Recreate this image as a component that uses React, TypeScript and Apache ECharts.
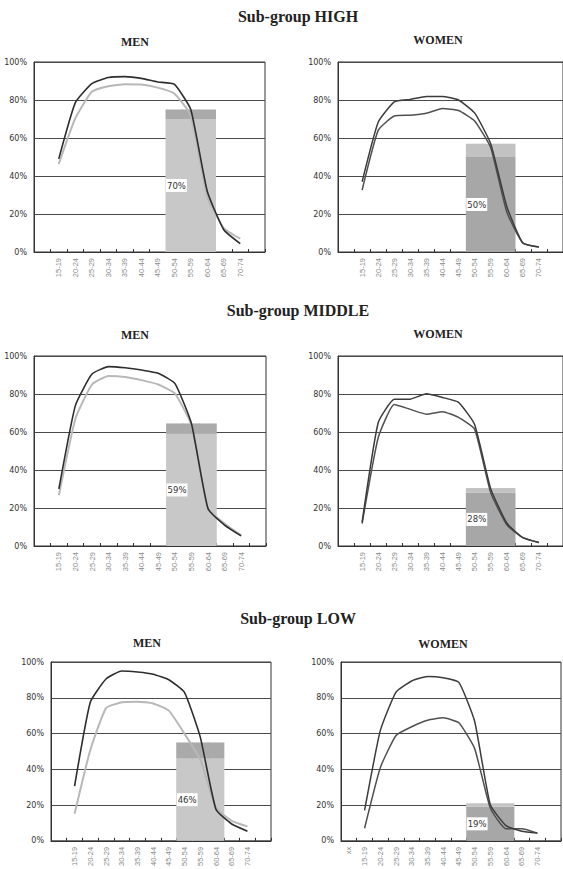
import React, { useEffect, useRef } from "react";
import * as echarts from "echarts";

// Categories (first and last slots are empty bands on the axis)
const AGE_GROUPS = ["15-19", "20-24", "25-29", "30-34", "35-39", "40-44", "45-49", "50-54", "55-59", "60-64", "65-69", "70-74"];
const CATS = ["", ...AGE_GROUPS, ""];
const CATS_LOW_WOMEN = ["xx", ...AGE_GROUPS, ""];
const BAR_CATS = ["50-54", "55-59", "60-64"];
const Y_TICKS = [0, 20, 40, 60, 80, 100];

// Sub-group HIGH
const highMenDark = [49, 78.5, 88.6, 91.8, 92.3, 91.4, 89.5, 88.3, 75, 32, 11.7, 4.4];
const highMenLight = [46.3, 70.3, 84.3, 87.2, 88.3, 88.1, 86.5, 83.4, 72, 29, 12.6, 7];
const highMenBar = [70, 75];
const highWomenA = [37, 68.3, 79, 80.3, 81.9, 81.9, 80, 73.2, 57, 24, 4.7, 2.6];
const highWomenB = [32.6, 64, 71.6, 72, 73, 75.5, 74.5, 69, 55, 21, 4.7, 2.6];
const highWomenBar = [50, 57];

// Sub-group MIDDLE
const midMenDark = [30, 74, 90.5, 94.4, 93.8, 92.6, 90.9, 85.6, 64.5, 19.7, 11, 5.3];
const midMenLight = [26.7, 67, 85, 89.5, 89, 87.3, 85, 80.3, 63.6, 19.7, 11.8, 5.6];
const midMenBar = [59, 64.5];
const midWomenA = [12.6, 64.9, 77.2, 77.3, 80.1, 78.2, 75.6, 64, 30.2, 12.1, 4.4, 1.8];
const midWomenB = [11.8, 57, 74.5, 71.9, 69.4, 70.7, 67.7, 61.5, 28.1, 11.2, 4.4, 1.8];
const midWomenBar = [28, 30.5];

// Sub-group LOW
const lowMenDark = [30.6, 77.5, 90.5, 95, 94.4, 93.2, 90.1, 82.9, 58, 17.5, 9.4, 5.4];
const lowMenLight = [15.1, 50.8, 74.2, 77.5, 77.8, 76.8, 72.8, 59.8, 45.4, 18.4, 11.2, 8.1];
const lowMenBar = [46, 55];
const lowWomenA = [17, 61.6, 83.2, 89.4, 91.9, 91.2, 88.6, 67, 20.2, 8.5, 5.4, 4.3];
const lowWomenB = [7, 40.9, 58.9, 63.8, 67.4, 68.8, 66, 51.7, 18.4, 6.7, 6.7, 4.3];
const lowWomenBar = [19, 21];

const GROUP_TITLES = ["Sub-group HIGH", "Sub-group MIDDLE", "Sub-group LOW"];

type Panel = {
  title: string;
  titleX: number;
  titleY: number;
  grid: { left: number; top: number; width: number; height: number };
  cats: string[];
  l1: number[];
  l2: number[];
  c1: string;
  c2: string;
  w1: number;
  w2: number;
  bar: number[];
  baseColor: string;
  topColor: string;
};

const MEN_DARK = "#2e2e2e";
const MEN_LIGHT = "#b8b8b8";
const WOM_A = "#3c3c3c";
const WOM_B = "#505050";

const panels: Panel[] = [
  { title: "MEN", titleX: 135, titleY: 42, grid: { left: 34, top: 62, width: 231, height: 190 }, cats: CATS, l1: highMenLight, l2: highMenDark, c1: MEN_LIGHT, c2: MEN_DARK, w1: 2, w2: 1.6, bar: highMenBar, baseColor: "#c8c8c8", topColor: "#aaaaaa" },
  { title: "WOMEN", titleX: 438, titleY: 40, grid: { left: 338, top: 62, width: 231, height: 190 }, cats: CATS, l1: highWomenB, l2: highWomenA, c1: WOM_B, c2: WOM_A, w1: 1.5, w2: 1.5, bar: highWomenBar, baseColor: "#a7a7a7", topColor: "#c2c2c2" },
  { title: "MEN", titleX: 135, titleY: 335, grid: { left: 34, top: 356, width: 232, height: 190 }, cats: CATS, l1: midMenLight, l2: midMenDark, c1: MEN_LIGHT, c2: MEN_DARK, w1: 2, w2: 1.6, bar: midMenBar, baseColor: "#c8c8c8", topColor: "#aaaaaa" },
  { title: "WOMEN", titleX: 438, titleY: 334, grid: { left: 338, top: 356, width: 231, height: 190 }, cats: CATS, l1: midWomenB, l2: midWomenA, c1: WOM_B, c2: WOM_A, w1: 1.5, w2: 1.5, bar: midWomenBar, baseColor: "#a7a7a7", topColor: "#c2c2c2" },
  { title: "MEN", titleX: 147, titleY: 643, grid: { left: 51, top: 662, width: 220, height: 185 }, cats: CATS, l1: lowMenLight, l2: lowMenDark, c1: MEN_LIGHT, c2: MEN_DARK, w1: 2, w2: 1.6, bar: lowMenBar, baseColor: "#c8c8c8", topColor: "#aaaaaa" },
  { title: "WOMEN", titleX: 443, titleY: 644, grid: { left: 341, top: 662, width: 220, height: 185 }, cats: CATS_LOW_WOMEN, l1: lowWomenB, l2: lowWomenA, c1: WOM_B, c2: WOM_A, w1: 1.5, w2: 1.5, bar: lowWomenBar, baseColor: "#a7a7a7", topColor: "#c4c4c4" },
];

function buildOption() {
  const grids: any[] = [];
  const xAxes: any[] = [];
  const yAxes: any[] = [];
  const series: any[] = [];
  const graphics: any[] = [];

  const titleYs = [16, 310, 618];
  GROUP_TITLES.forEach((t, i) => {
    graphics.push({
      type: "text",
      x: 298,
      y: titleYs[i],
      style: { text: t, fill: "#222", font: "bold 16px 'Liberation Serif', serif", textAlign: "center", textVerticalAlign: "middle" },
    });
  });

  panels.forEach((p, i) => {
    const barW = p.grid.width / p.cats.length + 1;
    grids.push({ ...p.grid, show: true, borderColor: "#333", borderWidth: 1, backgroundColor: "transparent", containLabel: false });
    xAxes.push({
      type: "category",
      gridIndex: i,
      data: p.cats,
      boundaryGap: true,
      axisLine: { show: true, lineStyle: { color: "#333", width: 1 } },
      axisTick: { show: true, inside: true, length: 3, alignWithLabel: false, lineStyle: { color: "#333" } },
      axisLabel: { interval: 0, rotate: 90, fontSize: 7.5, color: "#8a8a8a", fontFamily: "'Liberation Sans', sans-serif", margin: 6 },
      splitLine: { show: false },
    });
    yAxes.push({
      type: "value",
      gridIndex: i,
      min: Y_TICKS[0],
      max: Y_TICKS[Y_TICKS.length - 1],
      interval: 20,
      axisLine: { show: true, lineStyle: { color: "#333" } },
      axisTick: { show: false },
      axisLabel: { formatter: "{value}%", fontSize: 8, color: "#333", fontFamily: "'DejaVu Sans', sans-serif", margin: 7 },
      splitLine: { show: true, lineStyle: { color: "#4a4a4a", width: 1 } },
    });
    const pad = (arr: number[]) => ["-", ...arr, "-"];
    const [baseVal, topVal] = p.bar;
    const baseData = p.cats.map((c, k) =>
      BAR_CATS.includes(c)
        ? k === p.cats.indexOf(BAR_CATS[0])
          ? {
              value: baseVal,
              label: {
                show: true,
                position: "insideLeft",
                distance: 0,
                offset: [0.5, 0],
                formatter: baseVal + "%",
                backgroundColor: "#ffffff",
                color: "#333",
                fontSize: 8.5,
                fontFamily: "'DejaVu Sans', sans-serif",
                padding: [2, 1, 2, 1],
              },
            }
          : baseVal
        : "-"
    );
    const topData = p.cats.map((c) => (BAR_CATS.includes(c) ? +(topVal - baseVal).toFixed(2) : "-"));
    series.push({
      type: "bar",
      xAxisIndex: i,
      yAxisIndex: i,
      stack: "ret" + i,
      data: baseData,
      barWidth: barW,
      barCategoryGap: "0%",
      itemStyle: { color: p.baseColor },
      z: 1,
    });
    series.push({
      type: "bar",
      xAxisIndex: i,
      yAxisIndex: i,
      stack: "ret" + i,
      data: topData,
      barWidth: barW,
      barCategoryGap: "0%",
      itemStyle: { color: p.topColor },
      z: 1,
    });
    series.push({
      type: "line",
      xAxisIndex: i,
      yAxisIndex: i,
      data: pad(p.l1),
      smooth: 0.15,
      symbol: "none",
      lineStyle: { color: p.c1, width: p.w1 },
      z: 3,
    });
    series.push({
      type: "line",
      xAxisIndex: i,
      yAxisIndex: i,
      data: pad(p.l2),
      smooth: 0.15,
      symbol: "none",
      lineStyle: { color: p.c2, width: p.w2 },
      z: 4,
    });
    graphics.push({
      type: "text",
      x: p.titleX,
      y: p.titleY,
      style: { text: p.title, fill: "#222", font: "bold 12px 'Liberation Serif', serif", textAlign: "center", textVerticalAlign: "middle" },
    });
  });

  return {
    animation: false,
    backgroundColor: "#ffffff",
    grid: grids,
    xAxis: xAxes,
    yAxis: yAxes,
    series,
    graphic: graphics,
  };
}

export default function App() {
  const ref = useRef<HTMLDivElement>(null);
  useEffect(() => {
    if (!ref.current) return;
    const chart = echarts.init(ref.current, undefined, { renderer: "svg" });
    chart.setOption(buildOption() as any);
    return () => chart.dispose();
  }, []);
  return <div ref={ref} style={{ position: "absolute", left: 0, top: 0, width: 563, height: 869 }} />;
}
